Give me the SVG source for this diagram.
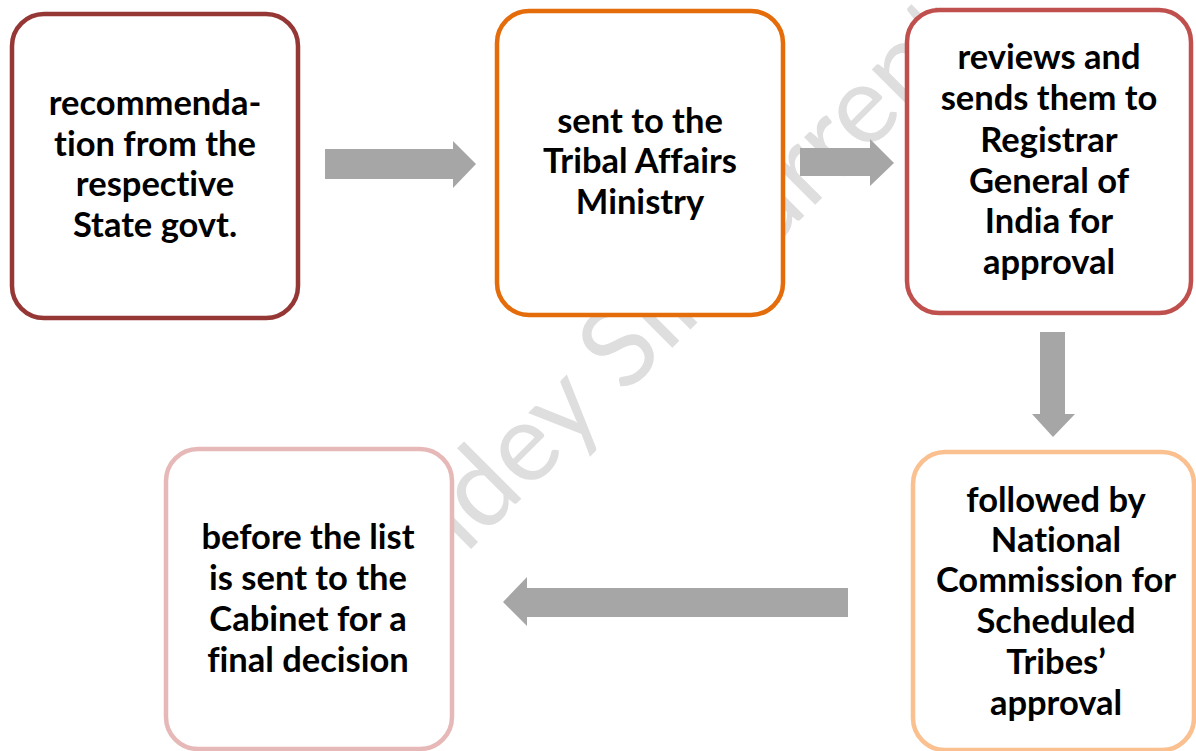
<svg xmlns="http://www.w3.org/2000/svg" width="1196" height="751" viewBox="0 0 1196 751">
  <style>
    .box { fill: #ffffff; stroke-width: 4.5; }
    .lbl { font-family: Lato, "Liberation Sans", sans-serif; font-weight: bold; font-size: 34.5px; fill: #000000; text-anchor: middle; font-variant-ligatures: none; }
    .arrow { fill: #A6A6A6; }
    .wm { font-family: Lato, "Open Sans", sans-serif; font-size: 110px; fill: #DEDEDE; }
  </style>
  <rect width="1196" height="751" fill="#ffffff"/>
  <g id="watermark" transform="translate(510,510) rotate(-45)">
    <text class="wm" x="137" y="0" text-anchor="end">Pandey</text>
    <text class="wm" x="162" y="0">Sir</text>
    <text class="wm" x="290" y="0">Current</text>
  </g>
  <g id="connectors">
    <path class="arrow" d="M325,149 H453 V141 L476,164 L453,188 V179 H325 Z"/>
    <path class="arrow" d="M800,148 H870 V139 L894,163 L870,186 V176 H800 Z"/>
    <path class="arrow" d="M1040,332 H1065 V414 H1075 L1053,437 L1032,414 H1040 Z"/>
    <path class="arrow" d="M848,588 V617 H527 V626 L503,602 L527,577 V588 Z"/>
  </g>
  <g id="node1">
    <rect class="box" x="12" y="14" width="286" height="304" rx="32" stroke="#953735"/>
    <text class="lbl"><tspan x="155" y="115">recommenda-</tspan><tspan x="155" y="156">tion from the</tspan><tspan x="155" y="196">respective</tspan><tspan x="155" y="237">State govt.</tspan></text>
  </g>
  <g id="node2">
    <rect class="box" x="497" y="11" width="286" height="304" rx="32" stroke="#E46C0A"/>
    <text class="lbl"><tspan x="640" y="133">sent to the</tspan><tspan x="640" y="173">Tribal Affairs</tspan><tspan x="640" y="214">Ministry</tspan></text>
  </g>
  <g id="node3">
    <rect class="box" x="907" y="10" width="284" height="303" rx="32" stroke="#C0504D"/>
    <text class="lbl"><tspan x="1049" y="69">reviews and</tspan><tspan x="1049" y="110">sends them to</tspan><tspan x="1049" y="152">Registrar</tspan><tspan x="1049" y="193">General of</tspan><tspan x="1049" y="233">India for</tspan><tspan x="1049" y="274">approval</tspan></text>
  </g>
  <g id="node4">
    <rect class="box" x="913" y="452" width="281" height="298" rx="32" stroke="#FAC090"/>
    <text class="lbl"><tspan x="1056" y="512">followed by</tspan><tspan x="1056" y="552">National</tspan><tspan x="1056" y="592">Commission for</tspan><tspan x="1056" y="633">Scheduled</tspan><tspan x="1056" y="674">Tribes’</tspan><tspan x="1056" y="715">approval</tspan></text>
  </g>
  <g id="node5">
    <rect class="box" x="166" y="449" width="286" height="300" rx="32" stroke="#E6B9B8"/>
    <text class="lbl"><tspan x="308" y="549">before the list</tspan><tspan x="308" y="590">is sent to the</tspan><tspan x="308" y="631">Cabinet for a</tspan><tspan x="308" y="672">final decision</tspan></text>
  </g>
</svg>
